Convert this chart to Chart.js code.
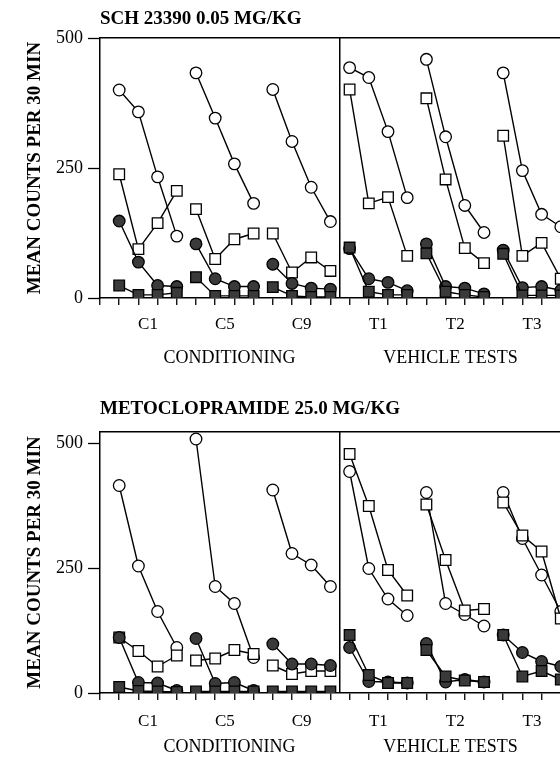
<!DOCTYPE html>
<html>
<head>
<meta charset="utf-8">
<script src="https://cdn.jsdelivr.net/npm/chart.js@4"></script>
<style>
  html, body { margin: 0; padding: 0; background: #fff; width: 560px; height: 759px; overflow: hidden; }
  canvas { display: block; }
</style>
</head>
<body>
<canvas id="chartSch" width="600" height="373"></canvas>
<canvas id="chartMeto" width="600" height="386"></canvas>
<script>
// ==== data (6 sessions x 4 samples each: C1, C5, C9, T1, T2, T3)
var groupLabels = ["C1", "C5", "C9", "T1", "T2", "T3"];
var groupCenters = [2.5, 6.5, 10.5, 14.5, 18.5, 22.5];
var phaseLabels = ["CONDITIONING", "VEHICLE TESTS"];
var phaseCenters = [6.75, 18.25];
var yTicks = [0, 250, 500];
var yTitle = "MEAN COUNTS PER 30 MIN";

var schOpenCircles   = [400, 358, 233, 119,  433, 346, 258, 182,  401, 301, 213, 147,  443, 424, 320, 193,  459, 310, 178, 126,  433, 245, 161, 137];
var schOpenSquares   = [238, 94, 144, 206,   171, 75, 113, 124,   124, 49, 78, 52,     401, 182, 194, 81,   384, 228, 96, 67,    312, 81, 106, 37];
var schFilledCircles = [148, 69, 24, 22,     104, 37, 22, 22,     65, 28, 19, 17,      95, 37, 30, 14,      104, 22, 19, 8,      92, 20, 22, 15];
var schFilledSquares = [24, 6, 6, 10,        40, 4, 4, 4,         21, 4, 2, 2,         97, 12, 6, 6,        86, 12, 6, 2,        85, 5, 5, 5];

var metoOpenCircles   = [415, 254, 163, 91,  508, 213, 179, 71,   406, 279, 256, 213,  443, 249, 188, 155,  401, 179, 157, 134,  401, 309, 236, 163];
var metoOpenSquares   = [111, 84, 53, 75,    65, 69, 86, 78,      55, 38, 44, 44,      478, 374, 246, 195,  377, 266, 165, 168,  381, 315, 283, 149];
var metoFilledCircles = [111, 21, 20, 5,     109, 19, 21, 5,      98, 58, 58, 55,      91, 23, 22, 20,      99, 22, 27, 22,      116, 81, 63, 53];
var metoFilledSquares = [12, 4, 3, 2,        3, 3, 3, 3,          3, 3, 3, 3,          116, 36, 20, 20,     86, 33, 25, 22,      116, 33, 44, 27];

var dividerAt = 12.5;
var xMax = 25;

var serif = "'Liberation Serif', 'DejaVu Serif', serif";
var clear = "rgba(0,0,0,0)";

// break the line after every 4th sample
function toPoints(values) {
  var pts = [];
  values.forEach(function (v, i) {
    pts.push({ x: i + 1, y: v });
    if (i % 4 === 3) pts.push({ x: i + 1.5, y: null });
  });
  return pts;
}

function series(values, style, filled) {
  return {
    data: toPoints(values),
    pointStyle: style,
    pointRadius: style === "rect" ? 7.5 : 5.8,
    pointBackgroundColor: filled ? "#3a3a3a" : "#fff",
    pointBorderColor: "#000",
    pointBorderWidth: 1.3,
    borderColor: "#000",
    borderWidth: 1.4,
    spanGaps: false,
    tension: 0,
  };
}

var xTickValues = [];
for (var t = 0; t <= xMax; t++) xTickValues.push(t);
xTickValues = xTickValues.concat(groupCenters, [dividerAt]);

function makeChart(id, p) {
  return new Chart(document.getElementById(id), {
    type: "line",
    data: {
      datasets: [
        series(p.filledSquares, "rect", true),
        series(p.filledCircles, "circle", true),
        series(p.openSquares, "rect", false),
        series(p.openCircles, "circle", false),
      ],
    },
    options: {
      responsive: false,
      animation: false,
      layout: { padding: { left: 0, right: 20, top: 0, bottom: 0 } },
      plugins: { legend: { display: false }, tooltip: { enabled: false } },
      scales: {
        x: {
          type: "linear",
          min: 0,
          max: xMax,
          afterBuildTicks: function (s) {
            s.ticks = xTickValues.map(function (v) { return { value: v }; });
          },
          ticks: {
            autoSkip: false,
            maxRotation: 0,
            padding: p.labelPad,
            color: "#000",
            font: { family: serif, size: 17 },
            callback: function (v) {
              var i = groupCenters.indexOf(v);
              return i >= 0 ? groupLabels[i] : "";
            },
          },
          grid: {
            drawOnChartArea: true,
            color: function (ctx) { return ctx.tick && ctx.tick.value === dividerAt ? "#000" : clear; },
            lineWidth: 1.5,
            tickColor: function (ctx) { return ctx.tick && Number.isInteger(ctx.tick.value) ? "#000" : clear; },
            tickLength: 7,
            tickWidth: 1.3,
          },
          border: { display: true, color: "#000", width: 1.5 },
          afterFit: function (s) { s.height = 35; },
        },
        xB: {
          type: "linear",
          position: "bottom",
          weight: 1,
          min: 0,
          max: xMax,
          afterBuildTicks: function (s) {
            s.ticks = phaseCenters.map(function (v) { return { value: v }; });
          },
          ticks: {
            autoSkip: false,
            maxRotation: 0,
            padding: p.phasePad,
            color: "#000",
            font: { family: serif, size: 18 },
            callback: function (v) { return phaseLabels[phaseCenters.indexOf(v)]; },
          },
          grid: { display: false },
          border: { display: false },
          afterFit: function (s) { s.height = p.phaseH; },
        },
        xTop: {
          type: "linear",
          position: "top",
          min: 0,
          max: xMax,
          ticks: { display: false },
          grid: { display: false },
          border: { display: true, color: "#000", width: 1.5 },
          title: {
            display: true,
            text: p.title,
            align: "start",
            color: "#000",
            font: { family: serif, size: 19, weight: "bold" },
            padding: { top: p.titlePad, bottom: 0 },
          },
          afterFit: function (s) { s.height = p.topH; },
        },
        y: {
          min: 0,
          max: p.yMax,
          afterBuildTicks: function (s) {
            s.ticks = yTicks.map(function (v) { return { value: v }; });
          },
          ticks: { color: "#000", padding: 5, font: { family: serif, size: 18 } },
          grid: { drawOnChartArea: false, tickLength: 12, tickColor: "#000", tickWidth: 1.3 },
          border: { display: true, color: "#000", width: 1.5 },
          title: {
            display: true,
            text: yTitle,
            color: "#000",
            font: { family: serif, size: 19, weight: "bold" },
            padding: { top: 24, bottom: 0 },
          },
          afterFit: function (s) { s.width = 100; },
        },
      },
    },
  });
}

var chartSch = makeChart("chartSch", {
  title: "SCH 23390 0.05 MG/KG",
  openCircles: schOpenCircles,
  openSquares: schOpenSquares,
  filledCircles: schFilledCircles,
  filledSquares: schFilledSquares,
  yMax: 500,
  topH: 38,
  titlePad: 8,
  labelPad: 9,
  phasePad: 6,
  phaseH: 40,
});

var chartMeto = makeChart("chartMeto", {
  title: "METOCLOPRAMIDE 25.0 MG/KG",
  openCircles: metoOpenCircles,
  openSquares: metoOpenSquares,
  filledCircles: metoFilledCircles,
  filledSquares: metoFilledSquares,
  yMax: 522,
  topH: 59,
  titlePad: 25,
  labelPad: 11,
  phasePad: 0,
  phaseH: 31,
});
</script>
</body>
</html>
